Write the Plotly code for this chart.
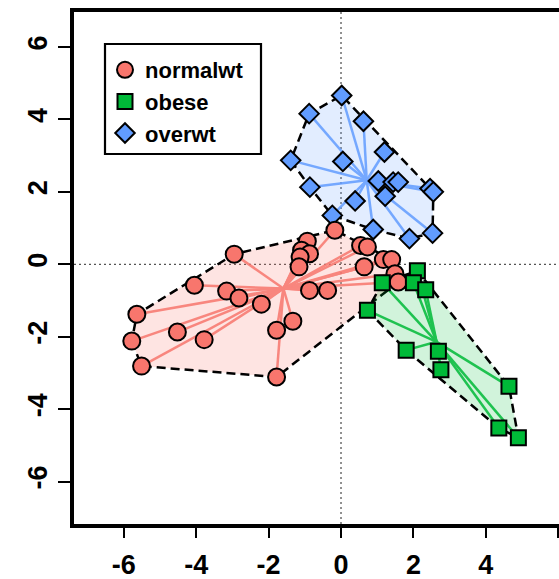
import plotly.graph_objects as go

# ---- data ----
normalwt_x = [-2.95, -4.05, -3.16, -2.82, -2.20, -5.64, -4.52, -3.78, -5.78, -5.51,
              -0.17, -0.93, -1.09, -0.87, -1.13, -1.16, 0.54, 0.73, 0.64, 1.17,
              1.40, 1.49, 1.58, -0.87, -0.37, -1.33, -1.78, -1.78]
normalwt_y = [0.28, -0.58, -0.74, -0.93, -1.10, -1.38, -1.87, -2.08, -2.12, -2.81,
              0.94, 0.64, 0.39, 0.29, 0.20, -0.07, 0.52, 0.48, -0.07, 0.13,
              0.13, -0.26, -0.49, -0.72, -0.72, -1.57, -1.82, -3.11]
obese_x = [2.11, 1.14, 2.00, 2.34, 0.73, 1.80, 2.69, 2.76, 4.64, 4.36, 4.90]
obese_y = [-0.18, -0.51, -0.51, -0.70, -1.27, -2.37, -2.40, -2.91, -3.37, -4.52, -4.79]
overwt_x = [0.02, -0.88, 0.62, 1.20, -1.39, 0.05, -0.86, 1.03, 1.44, 1.58,
            1.22, 0.39, 2.46, 2.55, -0.24, 0.89, 1.89, 2.53]
overwt_y = [4.66, 4.16, 3.95, 3.10, 2.87, 2.84, 2.13, 2.30, 2.27, 2.27,
            1.88, 1.75, 2.09, 2.00, 1.35, 0.96, 0.71, 0.86]
centroid_x = {"normalwt": -1.59, "obese": 2.64, "overwt": 0.71}
centroid_y = {"normalwt": -0.67, "obese": -2.14, "overwt": 2.32}
x_ticks = [-6, -4, -2, 0, 2, 4, 6]
y_ticks = [-6, -4, -2, 0, 2, 4, 6]

groups = ["normalwt", "obese", "overwt"]
data = {
    "normalwt": (normalwt_x, normalwt_y),
    "obese": (obese_x, obese_y),
    "overwt": (overwt_x, overwt_y),
}
colors = {"normalwt": "#F8766D", "obese": "#00BA38", "overwt": "#619CFF"}
fills = {"normalwt": "rgba(248,118,109,0.2)", "obese": "rgba(0,186,56,0.18)",
         "overwt": "rgba(97,156,255,0.18)"}
symbols = {"normalwt": "circle", "obese": "square", "overwt": "diamond"}
sizes = {"normalwt": 17, "obese": 15, "overwt": 15}


def hull(xs, ys):
    pts = sorted(set(zip(xs, ys)))

    def cross(o, a, b):
        return (a[0] - o[0]) * (b[1] - o[1]) - (a[1] - o[1]) * (b[0] - o[0])
    lower, upper = [], []
    for p in pts:
        while len(lower) >= 2 and cross(lower[-2], lower[-1], p) <= 0:
            lower.pop()
        lower.append(p)
    for p in reversed(pts):
        while len(upper) >= 2 and cross(upper[-2], upper[-1], p) <= 0:
            upper.pop()
        upper.append(p)
    h = lower[:-1] + upper[:-1]
    h.append(h[0])
    return [p[0] for p in h], [p[1] for p in h]


fig = go.Figure()

# hulls
for g in groups:
    hx, hy = hull(*data[g])
    fig.add_trace(go.Scatter(x=hx, y=hy, mode="lines", fill="toself",
                             fillcolor=fills[g],
                             line=dict(color="black", width=2.5, dash="9px,5px"),
                             showlegend=False, hoverinfo="skip"))

# spider lines
for g in groups:
    xs, ys = data[g]
    lx, ly = [], []
    for x, y in zip(xs, ys):
        lx += [centroid_x[g], x, None]
        ly += [centroid_y[g], y, None]
    fig.add_trace(go.Scatter(x=lx, y=ly, mode="lines",
                             line=dict(color=colors[g], width=2.5),
                             opacity=0.85, showlegend=False, hoverinfo="skip"))

# points (overwt first so others sit above it)
for g in ["overwt", "normalwt", "obese"]:
    xs, ys = data[g]
    fig.add_trace(go.Scatter(x=xs, y=ys, mode="markers", name=g,
                             marker=dict(symbol=symbols[g], size=sizes[g],
                                         color=colors[g],
                                         line=dict(color="black", width=2)),
                             legendrank={"normalwt": 1, "obese": 2, "overwt": 3}[g]))

# reference lines
fig.add_hline(y=0, line=dict(color="#555555", width=1.3, dash="2px,3px"), layer="below")
fig.add_vline(x=0, line=dict(color="#555555", width=1.3, dash="2px,3px"), layer="below")

W, H = 559, 579
L, T, B = 74, 12, 55
PW, PH = W - L, H - T - B


def px_to_paper_x(p):
    return (p - L) / PW


def px_to_paper_y(p):
    return 1 - (p - T) / PH


# legend frame
fig.add_shape(type="rect", xref="paper", yref="paper",
              x0=px_to_paper_x(105), x1=px_to_paper_x(261),
              y0=px_to_paper_y(154), y1=px_to_paper_y(44),
              line=dict(color="black", width=2.2), fillcolor="white", layer="below")

fig.update_layout(
    width=W, height=H,
    margin=dict(l=L, r=0, t=T, b=B),
    plot_bgcolor="white", paper_bgcolor="white",
    font=dict(family="Liberation Sans, Arial, sans-serif", color="black", weight="bold"),
    legend=dict(x=px_to_paper_x(105), y=px_to_paper_y(49),
                xanchor="left", yanchor="top",
                borderwidth=0, bgcolor="rgba(0,0,0,0)",
                font=dict(size=22, weight="bold"),
                traceorder="normal"),
)
fig.update_xaxes(range=[-7.376, 6.022], tickvals=x_ticks, ticktext=[str(v) for v in x_ticks],
                 showline=True, linewidth=4, linecolor="black", mirror=True,
                 ticks="outside", ticklen=10, tickwidth=1.5, tickcolor="black",
                 showgrid=False, zeroline=False, ticklabelstandoff=4,
                 tickfont=dict(size=27, weight="bold"))
fig.update_yaxes(range=[-7.17, 6.966], tickvals=y_ticks, ticktext=[str(v) for v in y_ticks],
                 showline=True, linewidth=4, linecolor="black", mirror=False,
                 ticks="outside", ticklen=12, tickwidth=1.5, tickcolor="black",
                 showgrid=False, zeroline=False, tickangle=-90,
                 tickfont=dict(size=27, weight="bold"))

fig.write_html("out.html")
